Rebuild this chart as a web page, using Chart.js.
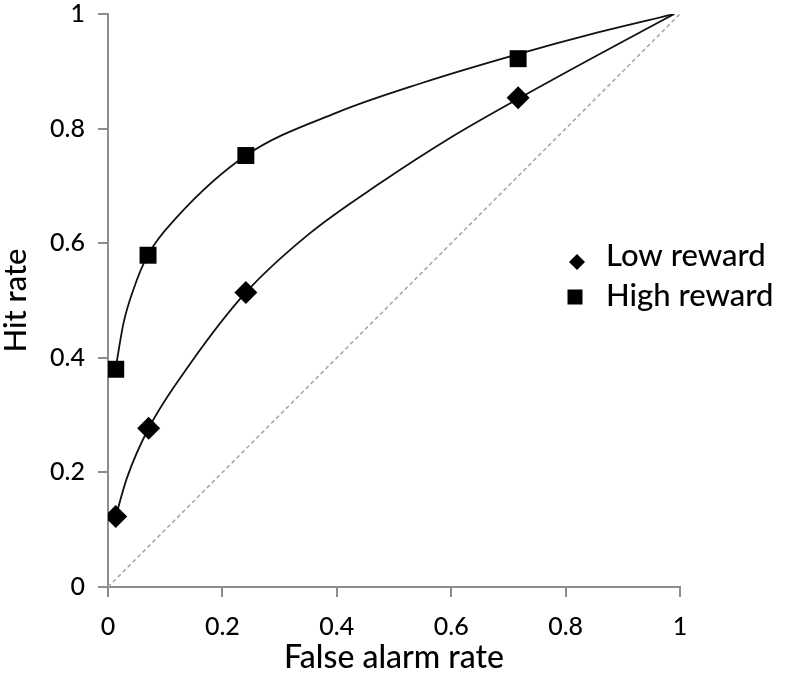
<!DOCTYPE html>
<html><head><meta charset="utf-8">
<script src="https://cdn.jsdelivr.net/npm/chart.js@4.4.0/dist/chart.umd.min.js"></script>
<style>html,body{margin:0;padding:0;background:#fff}canvas{display:block}</style>
</head><body>
<canvas id="c" width="787" height="676"></canvas>
<script>
// ---- data ----
const seriesNames = ['Low reward', 'High reward'];
const xTitle = 'False alarm rate';
const yTitle = 'Hit rate';
const tickLabels = ['0', '0.2', '0.4', '0.6', '0.8', '1'];

// observed points
const lowFA   = [0.0135, 0.071, 0.241, 0.717];
const lowHit  = [0.123, 0.277, 0.514, 0.854];
const highFA  = [0.0135, 0.070, 0.241, 0.717];
const highHit = [0.380, 0.579, 0.753, 0.922];

// fitted curves
const lowCurveX  = [0.0135, 0.033, 0.071, 0.144, 0.241, 0.350, 0.476, 0.600, 0.717, 0.850, 0.990];
const lowCurveY  = [0.123, 0.190, 0.277, 0.390, 0.514, 0.615, 0.705, 0.785, 0.852, 0.925, 1.000];
const highCurveX = [0.014, 0.027, 0.044, 0.070, 0.120, 0.241, 0.400, 0.550, 0.717, 0.850, 0.990];
const highCurveY = [0.385, 0.460, 0.518, 0.580, 0.645, 0.753, 0.828, 0.880, 0.930, 0.966, 1.000];

// chance diagonal
const chanceX = [0, 1];
const chanceY = [0, 1];

const pts = (xs, ys) => xs.map((x, i) => ({x: x, y: ys[i]}));

const legendPlugin = {
  id: 'sideLegend',
  afterDraw(chart) {
    const ctx = chart.ctx;
    ctx.save();
    ctx.fillStyle = '#000';
    const dx = 577, dy = 262, r = 8;
    ctx.beginPath();
    ctx.moveTo(dx - r, dy); ctx.lineTo(dx, dy - r); ctx.lineTo(dx + r, dy); ctx.lineTo(dx, dy + r);
    ctx.closePath(); ctx.fill();
    ctx.fillRect(575 - 7.5, 297 - 7.5, 15, 15);
    ctx.font = '500 31px Lato';
    ctx.textBaseline = 'alphabetic';
    ctx.textAlign = 'left';
    ctx.fillText(seriesNames[0], 606, 266);
    ctx.fillText(seriesNames[1], 606, 306);
    ctx.restore();
  }
};

const axisColor = '#8c8c8c';

function build() {
  new Chart(document.getElementById('c'), {
    type: 'scatter',
    data: {
      datasets: [
        { label: seriesNames[0], data: pts(lowFA, lowHit), pointStyle: 'rectRot', pointRadius: 11.5,
          backgroundColor: '#000', borderColor: '#000', borderWidth: 0, showLine: false },
        { label: seriesNames[1], data: pts(highFA, highHit), pointStyle: 'rect', pointRadius: 12,
          backgroundColor: '#000', borderColor: '#000', borderWidth: 0, showLine: false },
        { label: 'low fit', data: pts(lowCurveX, lowCurveY), showLine: true, pointRadius: 0,
          borderColor: '#111', borderWidth: 1.8, cubicInterpolationMode: 'monotone', fill: false },
        { label: 'high fit', data: pts(highCurveX, highCurveY), showLine: true, pointRadius: 0,
          borderColor: '#111', borderWidth: 1.8, cubicInterpolationMode: 'monotone', fill: false },
        { label: 'chance', data: pts(chanceX, chanceY), showLine: true, pointRadius: 0,
          borderColor: '#a8a8a8', borderWidth: 1.6, borderDash: [4, 3], fill: false }
      ]
    },
    options: {
      responsive: false,
      animation: false,
      devicePixelRatio: 1,
      layout: { padding: { top: 14, right: 107, left: 0, bottom: 0 } },
      plugins: { legend: { display: false }, tooltip: { enabled: false } },
      scales: {
        x: {
          type: 'linear', min: 0, max: 1,
          border: { display: true, color: axisColor, width: 2 },
          grid: { drawOnChartArea: false, drawTicks: true, tickLength: 10, color: axisColor, lineWidth: 2 },
          ticks: { stepSize: 0.2, color: '#000', font: { family: 'Lato', size: 25, weight: '500', lineHeight: 1.12 }, padding: 16,
                   callback: (v, i) => tickLabels[i] },
          title: { display: true, text: xTitle, color: '#000', font: { family: 'Lato', size: 32, weight: '500', lineHeight: 1.0 },
                   padding: { top: 0, bottom: 2 } },
          afterFit: (s) => { s.height = 89; s.paddingLeft = 0; s.paddingRight = 0; }
        },
        y: {
          type: 'linear', min: 0, max: 1,
          border: { display: true, color: axisColor, width: 2 },
          grid: { drawOnChartArea: false, drawTicks: true, tickLength: 10, color: axisColor, lineWidth: 2 },
          ticks: { stepSize: 0.2, color: '#000', font: { family: 'Lato', size: 25, weight: '500', lineHeight: 1.12 }, padding: 13,
                   callback: (v, i) => tickLabels[i] },
          title: { display: true, text: yTitle, color: '#000', font: { family: 'Lato', size: 31, weight: '500', lineHeight: 1.0 },
                   padding: { top: 0, bottom: 0 } },
          afterFit: (s) => { s.width = 108; s.paddingTop = 0; s.paddingBottom = 0; }
        }
      }
    },
    plugins: [legendPlugin]
  });
}

if (document.fonts && document.fonts.load) {
  Promise.all([document.fonts.load('500 25px Lato'), document.fonts.load('500 31px Lato')]).then(build, build);
} else { build(); }
</script>
</body></html>
